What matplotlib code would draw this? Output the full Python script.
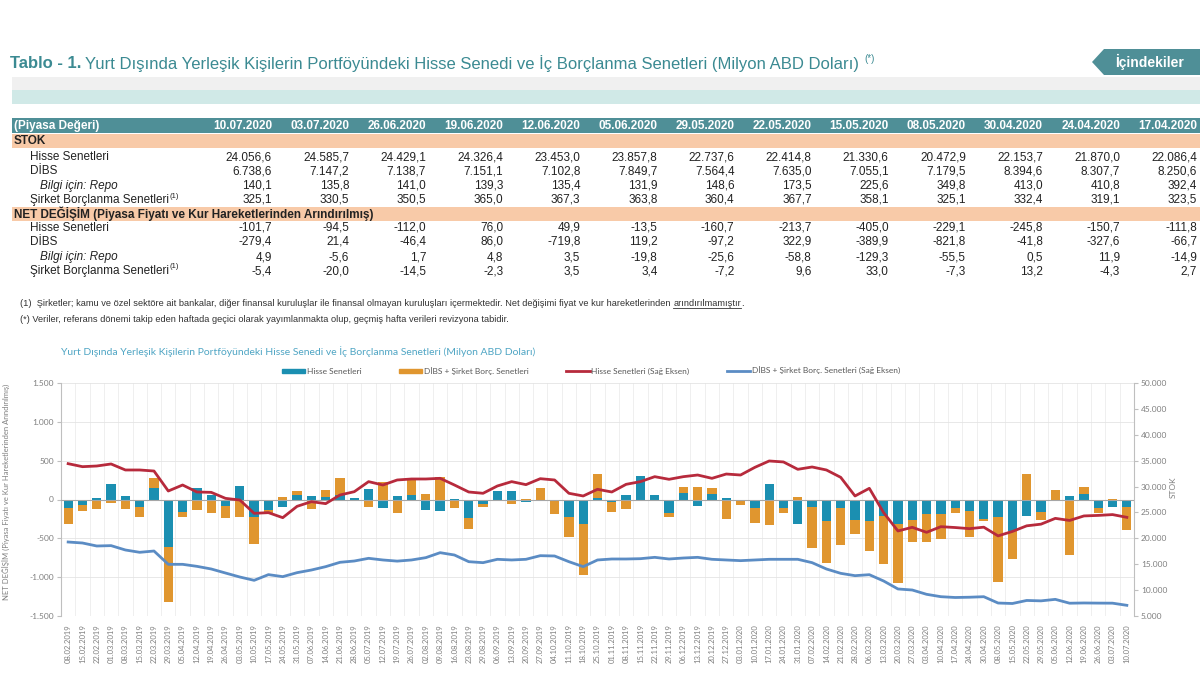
import numpy as np
import matplotlib as mpl
mpl.use('agg')
import matplotlib.pyplot as plt
import matplotlib.patches as mpatches
from matplotlib import font_manager
from matplotlib.lines import Line2D
from matplotlib.ticker import FuncFormatter, FixedLocator

# --- table data (latest week first) ---
table_dates = ['10.07.2020', '03.07.2020', '26.06.2020', '19.06.2020', '12.06.2020', '05.06.2020',
               '29.05.2020', '22.05.2020', '15.05.2020', '08.05.2020', '30.04.2020', '24.04.2020',
               '17.04.2020']
stock_hisse = [24056.6, 24585.7, 24429.1, 24326.4, 23453.0, 23857.8, 22737.6, 22414.8, 21330.6,
               20472.9, 22153.7, 21870.0, 22086.4]
stock_dibs = [6738.6, 7147.2, 7138.7, 7151.1, 7102.8, 7849.7, 7564.4, 7635.0, 7055.1, 7179.5,
              8394.6, 8307.7, 8250.6]
stock_repo = [140.1, 135.8, 141.0, 139.3, 135.4, 131.9, 148.6, 173.5, 225.6, 349.8, 413.0, 410.8, 392.4]
stock_sirket = [325.1, 330.5, 350.5, 365.0, 367.3, 363.8, 360.4, 367.7, 358.1, 325.1, 332.4, 319.1, 323.5]
net_hisse = [-101.7, -94.5, -112.0, 76.0, 49.9, -13.5, -160.7, -213.7, -405.0, -229.1, -245.8, -150.7, -111.8]
net_dibs = [-279.4, 21.4, -46.4, 86.0, -719.8, 119.2, -97.2, 322.9, -389.9, -821.8, -41.8, -327.6, -66.7]
net_repo = [4.9, -5.6, 1.7, 4.8, 3.5, -19.8, -25.6, -58.8, -129.3, -55.5, 0.5, 11.9, -14.9]
net_sirket = [-5.4, -20.0, -14.5, -2.3, 3.5, 3.4, -7.2, 9.6, 33.0, -7.3, 13.2, -4.3, 2.7]

# --- chart data, weekly 08.02.2019 - 10.04.2020 (later weeks come from the table) ---
week_labels = ['08.02.2019', '15.02.2019', '22.02.2019', '01.03.2019', '08.03.2019', '15.03.2019',
               '22.03.2019', '29.03.2019', '05.04.2019', '12.04.2019', '19.04.2019', '26.04.2019',
               '03.05.2019', '10.05.2019', '17.05.2019', '24.05.2019', '31.05.2019', '07.06.2019',
               '14.06.2019', '21.06.2019', '28.06.2019', '05.07.2019', '12.07.2019', '19.07.2019',
               '26.07.2019', '02.08.2019', '09.08.2019', '16.08.2019', '23.08.2019', '29.08.2019',
               '06.09.2019', '13.09.2019', '20.09.2019', '27.09.2019', '04.10.2019', '11.10.2019',
               '18.10.2019', '25.10.2019', '01.11.2019', '08.11.2019', '15.11.2019', '22.11.2019',
               '29.11.2019', '06.12.2019', '13.12.2019', '20.12.2019', '27.12.2019', '03.01.2020',
               '10.01.2020', '17.01.2020', '24.01.2020', '31.01.2020', '07.02.2020', '14.02.2020',
               '21.02.2020', '28.02.2020', '06.03.2020', '13.03.2020', '20.03.2020', '27.03.2020',
               '03.04.2020', '10.04.2020', '17.04.2020', '24.04.2020', '30.04.2020', '08.05.2020',
               '15.05.2020', '22.05.2020', '29.05.2020', '05.06.2020', '12.06.2020', '19.06.2020',
               '26.06.2020', '03.07.2020', '10.07.2020']
chart_net_hisse = [-107, -70, 24, 195, 41, -101, 144, -607, -165, 148, 62, -84, 174, -221, -135, -97,
                   54, 49, 36, 54, 24, 131, -109, 45, 62, -135, -148, 3, -234, -54, 105, 109, -30, -19,
                   -3, -221, -320, 15, -36, 58, 302, 54, -169, 88, -79, 75, 15, -19, -114, 195, -114,
                   -315, -92, -272, -105, -264, -272, -208, -315, -264, -186, -186]
chart_net_borc = [-214, -78, -127, -49, -127, -120, 137, -716, -60, -139, -170, -158, -225, -347, -43,
                  36, 51, -122, 86, 218, -15, -97, 225, -178, 189, 66, 293, -105, -150, -47, 3, -54, 5,
                  150, -178, -257, -648, 313, -120, -122, -5, -23, -51, 73, 161, 77, -247, -47, -184,
                  -328, -56, 36, -531, -552, -483, -180, -391, -627, -756, -279, -357, -327]
chart_stok_hisse = [34420, 33840, 33970, 34360, 33200, 33200, 33000, 29140, 30300, 28950, 28880, 27720,
                    27400, 24830, 24960, 23990, 26180, 27080, 26700, 28370, 29010, 30950, 30300, 31270,
                    31460, 31460, 31590, 30300, 28950, 28700, 30110, 30950, 30370, 31520, 31270, 28700,
                    28180, 29470, 28950, 30430, 30950, 31910, 31400, 31910, 32230, 31590, 32420, 32230,
                    33710, 34940, 34750, 33330, 33780, 33200, 31780, 28180, 29660, 24960, 21420, 22130,
                    21160, 22250]
chart_stok_borc = [19290, 19100, 18520, 18590, 17750, 17300, 17550, 14980, 14980, 14590, 14080, 13300,
                   12530, 11890, 12990, 12600, 13370, 13880, 14530, 15370, 15620, 16140, 15820, 15600,
                   15820, 16270, 17230, 16780, 15490, 15300, 15950, 15820, 15950, 16650, 16590, 15490,
                   14530, 15820, 16010, 16010, 16070, 16330, 16010, 16200, 16330, 15950, 15820, 15690,
                   15820, 15950, 15950, 15950, 15300, 14080, 13240, 12790, 12980, 11760, 10220, 10020,
                   9190, 8730]

# add the table weeks (oldest first)
net_h = chart_net_hisse + net_hisse[::-1]
net_b = chart_net_borc + [d + s for d, s in zip(net_dibs, net_sirket)][::-1]
stok_h = chart_stok_hisse + stock_hisse[::-1]
stok_b = chart_stok_borc + [d + s for d, s in zip(stock_dibs, stock_sirket)][::-1]

W, H = 1200, 675
TEAL = '#3b8a92'
HEAD = '#4f8f97'
PEACH = '#f8caa8'
BAR1 = '#1b8fb1'
BAR2 = '#e0962f'
RED = '#b72a3c'
BLUE = '#5b8cc4'
GRAYTXT = '#7f7f7f'

names = set(f.name for f in font_manager.fontManager.ttflist)
NARROW = 'Liberation Sans Narrow' if 'Liberation Sans Narrow' in names else 'Liberation Sans'
CHART = 'Lato'


def fx(x):
    return x / W


def fy(y):
    return 1 - y / H


def tr(v):
    # turkish number format 24.056,6
    s = '{:,.1f}'.format(v)
    return s.replace(',', 'X').replace('.', ',').replace('X', '.')


def rect(x0, y0, x1, y1, color):
    fig.add_artist(mpatches.Rectangle((fx(x0), fy(y1)), (x1 - x0) / W, (y1 - y0) / H,
                                      transform=fig.transFigure, color=color, lw=0, zorder=0))


def txt(x, y, s, **kw):
    kw.setdefault('va', 'center')
    return fig.text(fx(x), fy(y), s, **kw)


def right_end(t):
    return t.get_window_extent(renderer=rend).x1


fig = plt.figure(figsize=(12, 6.75), dpi=100)
rend = fig.canvas.get_renderer()

# --- header area ---
t1 = txt(10, 64, 'Tablo - 1.', color=TEAL, fontsize=12, fontweight='bold', family=NARROW)
t2 = txt(right_end(t1) + 4, 64,
         'Yurt Dışında Yerleşik Kişilerin Portföyündeki Hisse Senedi ve İç Borçlanma Senetleri (Milyon ABD Doları)',
         color=TEAL, fontsize=12, family=NARROW)
txt(right_end(t2) + 5, 59, '(*)', color=TEAL, fontsize=7, family=NARROW)

fig.add_artist(mpatches.Polygon([(fx(1092), fy(62)), (fx(1104), fy(49)), (fx(1200), fy(49)),
                                 (fx(1200), fy(75)), (fx(1104), fy(75))],
                                closed=True, transform=fig.transFigure, color=HEAD, lw=0))
txt(1150, 62, 'İçindekiler', ha='center', color='white', fontsize=10, fontweight='bold', family=NARROW)

rect(12, 77, 1200, 90, '#f0f0f0')
rect(12, 90, 1200, 104, '#d0e9e7')

# --- table ---
rect(12, 118, 1200, 133, HEAD)
rect(12, 134, 1200, 148, PEACH)
rect(12, 207, 1200, 221, PEACH)

col_right = [272 + 77.1 * i for i in range(len(table_dates))]
txt(14, 126, '(Piyasa Değeri)', color='white', fontsize=8.5, fontweight='bold', family=NARROW)
for xr, d in zip(col_right, table_dates):
    txt(xr, 126, d, ha='right', color='white', fontsize=8.5, fontweight='bold', family=NARROW)

txt(14, 141, 'STOK', color='#222222', fontsize=8.5, fontweight='bold', family=NARROW)
txt(14, 214, 'NET DEĞİŞİM (Piyasa Fiyatı ve Kur Hareketlerinden Arındırılmış)', color='#222222',
    fontsize=8.5, fontweight='bold', family=NARROW)

rows = [(157, 'Hisse Senetleri', stock_hisse), (171, 'DİBS', stock_dibs),
        (186, 'Bilgi için: Repo', stock_repo), (200, 'Şirket Borçlanma Senetleri', stock_sirket),
        (228, 'Hisse Senetleri', net_hisse), (242, 'DİBS', net_dibs),
        (257, 'Bilgi için: Repo', net_repo), (271, 'Şirket Borçlanma Senetleri', net_sirket)]
for y, label, vals in rows:
    if label.startswith('Bilgi'):
        txt(40, y, label, color='#222222', fontsize=8.5, style='italic', family=NARROW)
    else:
        t = txt(30, y, label, color='#222222', fontsize=8.5, family=NARROW)
        if label.startswith('Şirket'):
            txt(right_end(t) + 1, y - 4, '(1)', color='#222222', fontsize=5.5, family=NARROW)
    for xr, v in zip(col_right, vals):
        txt(xr, y, tr(v), ha='right', color='#222222', fontsize=8.5, family=NARROW)

# footnotes
f1 = txt(20, 303, '(1)  Şirketler; kamu ve özel sektöre ait bankalar, diğer finansal kuruluşlar ile finansal '
         'olmayan kuruluşları içermektedir. Net değişimi fiyat ve kur hareketlerinden ',
         color='#333333', fontsize=6.7, family=NARROW)
x0 = right_end(f1)
f2 = txt(x0, 303, 'arındırılmamıştır', color='#333333', fontsize=6.7, family=NARROW)
x1 = right_end(f2)
fig.add_artist(Line2D([fx(x0), fx(x1)], [fy(308), fy(308)], transform=fig.transFigure,
                      color='#333333', lw=0.6))
txt(x1, 303, '.', color='#333333', fontsize=6.7, family=NARROW)
txt(20, 320, '(*) Veriler, referans dönemi takip eden haftada geçici olarak yayımlanmakta olup, geçmiş '
    'hafta verileri revizyona tabidir.', color='#333333', fontsize=6.7, family=NARROW)

# --- chart ---
txt(298, 352, 'Yurt Dışında Yerleşik Kişilerin Portföyündeki Hisse Senedi ve İç Borçlanma Senetleri '
    '(Milyon ABD Doları)', ha='center', color='#4fa5c4', fontsize=7.5, family=CHART)

ax = fig.add_axes([fx(61), fy(616), (1134 - 61) / W, (616 - 383) / H])
x = np.arange(len(week_labels))
h = np.array(net_h)
b = np.array(net_b)
# excel-style stacking: same sign goes on top of the first bar, opposite sign starts at zero
bottom_b = np.where(np.sign(b) == np.sign(h), h, 0)
ax.bar(x, h, width=0.65, color=BAR1, zorder=2)
ax.bar(x, b, bottom=bottom_b, width=0.65, color=BAR2, zorder=2)
ax.axhline(0, color='#a6a6a6', lw=0.8, zorder=3)

ax.set_xlim(-0.5, len(x) - 0.5)
ax.set_ylim(-1500, 1500)
ax.set_yticks(range(-1500, 1501, 500))
ax.yaxis.set_major_formatter(FuncFormatter(lambda v, p: '{:,.0f}'.format(v).replace(',', '.')))
ax.set_xticks(x)
ax.set_xticklabels(week_labels, rotation=90, fontsize=5.5, color=GRAYTXT, family=CHART)
ax.xaxis.set_minor_locator(FixedLocator(np.arange(-0.5, len(x), 1)))
ax.tick_params(axis='x', which='both', length=0, pad=6)
ax.tick_params(axis='y', length=3, color='#bfbfbf', labelsize=6, labelcolor=GRAYTXT, pad=2)
for lab in ax.get_yticklabels():
    lab.set_family(CHART)
ax.yaxis.grid(True, color='#e4e4e4', lw=0.6)
ax.xaxis.grid(True, which='minor', color='#ececec', lw=0.6)
ax.set_axisbelow(True)
for s in ['top', 'right', 'bottom']:
    ax.spines[s].set_visible(False)
ax.spines['left'].set_color('#bfbfbf')

ax2 = ax.twinx()
ax2.plot(x, stok_h, color=RED, lw=2)
ax2.plot(x, stok_b, color=BLUE, lw=2)
ax2.set_ylim(5000, 50000)
ax2.set_yticks(range(5000, 50001, 5000))
ax2.yaxis.set_major_formatter(FuncFormatter(lambda v, p: '{:,.0f}'.format(v).replace(',', '.')))
ax2.tick_params(axis='y', length=3, color='#bfbfbf', labelsize=6, labelcolor=GRAYTXT, pad=2)
for lab in ax2.get_yticklabels():
    lab.set_family(CHART)
for s in ['top', 'left', 'bottom']:
    ax2.spines[s].set_visible(False)
ax2.spines['right'].set_color('#bfbfbf')

txt(1173, 487, 'STOK', rotation=90, ha='center', color=GRAYTXT, fontsize=6, family=CHART)
txt(6, 492, 'NET DEĞİŞİM (Piyasa Fiyatı ve Kur Hareketlerinden Arındırılmış)', rotation=90,
    ha='center', color=GRAYTXT, fontsize=5.5, family=CHART)

handles = [mpatches.Patch(color=BAR1, label='Hisse Senetleri'),
           mpatches.Patch(color=BAR2, label='DİBS + Şirket Borç. Senetleri'),
           Line2D([], [], color=RED, lw=2, label='Hisse Senetleri (Sağ Eksen)'),
           Line2D([], [], color=BLUE, lw=2, label='DİBS + Şirket Borç. Senetleri (Sağ Eksen)')]
leg = fig.legend(handles=handles, loc='center', bbox_to_anchor=(fx(591), fy(371)), ncol=4,
                 frameon=False, handlelength=2.8, handleheight=0.5, handletextpad=0.2,
                 columnspacing=4.5, prop={'family': CHART, 'size': 6})
for t in leg.get_texts():
    t.set_color('#595959')

plt.savefig('out.png', dpi=100)
plt.close()
